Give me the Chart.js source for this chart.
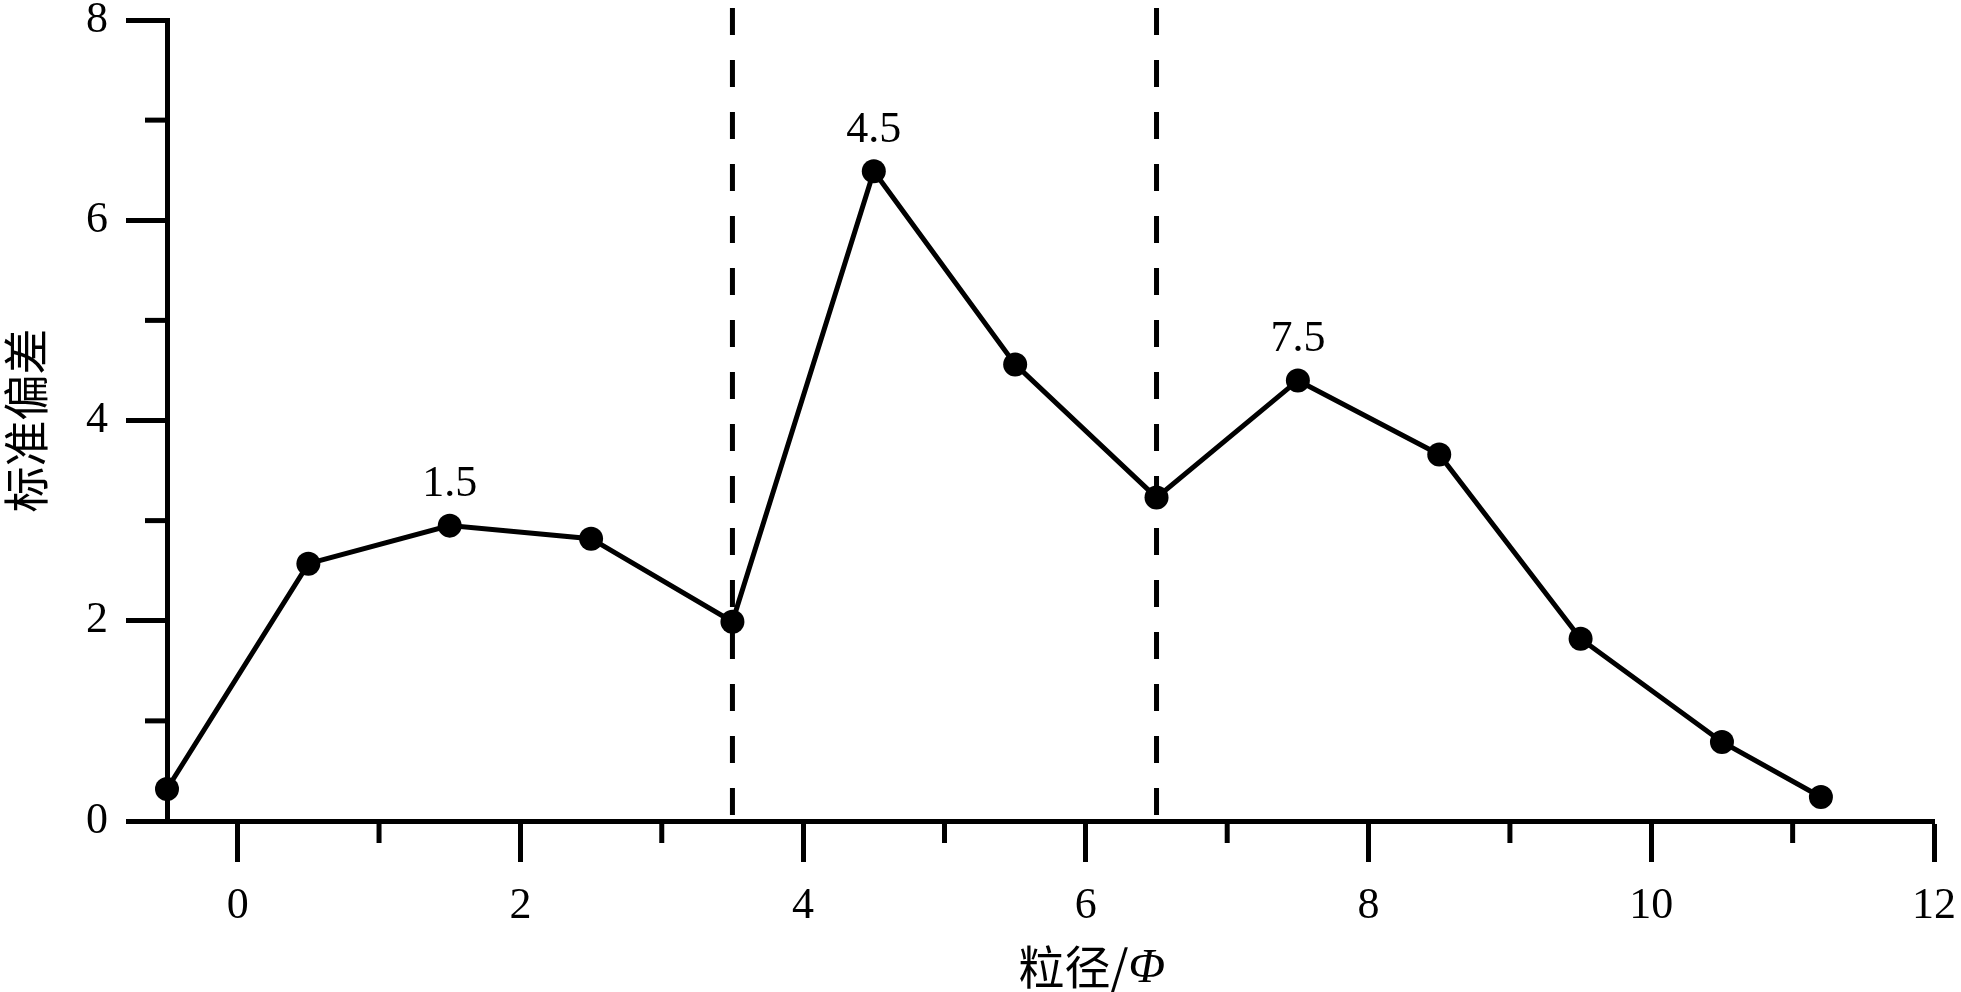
<!DOCTYPE html>
<html>
<head>
<meta charset="utf-8">
<script src="https://cdn.jsdelivr.net/npm/chart.js@4"></script>
<style>
  html, body { margin: 0; padding: 0; background: #fff; }
  #wrap { width: 1961px; height: 992px; }
</style>
</head>
<body>
<div id="wrap"><canvas id="sdChart" width="1961" height="992"></canvas></div>
<script>
// grain size (phi) and standard deviation
const grainSize = [-0.5, 0.5, 1.5, 2.5, 3.5, 4.5, 5.5, 6.5, 7.5, 8.5, 9.5, 10.5, 11.2];
const stdDev    = [0.32, 2.57, 2.95, 2.82, 1.99, 6.49, 4.56, 3.23, 4.40, 3.66, 1.82, 0.79, 0.24];

// dashed dividers and the labelled peaks
const dividers = [3.5, 6.5];
const dividerTop = 8.12;
const peakLabels = ["1.5", "4.5", "7.5"];
const peakIndex = [2, 5, 8];

const xMinor = [1, 3, 5, 7, 9, 11];
const yMinor = [1, 3, 5, 7];

const serif = "'Liberation Serif', 'Times New Roman', serif";
const cjk = "'Noto Sans CJK SC', sans-serif";

const pts = grainSize.map((x, i) => ({ x: x, y: stdDev[i] }));

const dividerSets = dividers.map(d => ({
    data: [{ x: d, y: dividerTop }, { x: d, y: 0 }],
    borderColor: "#000",
    borderWidth: 5,
    borderDash: [27, 25],
    pointRadius: 0,
    clip: false,
}));

// minor ticks, peak labels and the x title (with italic phi)
const extras = {
    id: "extras",
    afterDraw(chart) {
        const c = chart.ctx;
        const xs = chart.scales.x;
        const ys = chart.scales.y;
        const area = chart.chartArea;
        c.save();
        c.strokeStyle = "#000";
        c.lineWidth = 5;
        xMinor.forEach(v => {
            const px = xs.getPixelForValue(v);
            c.beginPath();
            c.moveTo(px, area.bottom);
            c.lineTo(px, area.bottom + 22);
            c.stroke();
        });
        yMinor.forEach(v => {
            const py = ys.getPixelForValue(v);
            c.beginPath();
            c.moveTo(area.left, py);
            c.lineTo(area.left - 22, py);
            c.stroke();
        });

        const meta = chart.getDatasetMeta(0);
        c.fillStyle = "#000";
        c.font = "44px " + serif;
        c.textAlign = "center";
        c.textBaseline = "middle";
        peakIndex.forEach((idx, k) => {
            const el = meta.data[idx];
            c.fillText(peakLabels[k], el.x, el.y - 41);
        });

        // x axis title
        const cx = xs.getPixelForValue(6) + 6;
        const ty = 967;
        c.textBaseline = "middle";
        c.textAlign = "left";
        c.font = "46px " + cjk;
        const p1 = "粒径/";
        const w1 = c.measureText(p1).width;
        c.font = "italic 48px " + serif;
        const p2 = "Φ";
        const w2 = c.measureText(p2).width;
        let sx = cx - (w1 + w2) / 2;
        c.font = "46px " + cjk;
        c.fillText(p1, sx, ty);
        c.font = "italic 48px " + serif;
        c.fillText(p2, sx + w1, ty + 2);
        c.restore();
    },
};

const ctx = document.getElementById("sdChart").getContext("2d");

const chart = new Chart(ctx, {
    type: "line",
    data: {
        datasets: [
            {
                data: pts,
                borderColor: "#000",
                backgroundColor: "#000",
                borderWidth: 5,
                pointRadius: 12,
                pointBackgroundColor: "#000",
                pointBorderWidth: 0,
                tension: 0,
                clip: false,
            },
            ...dividerSets,
        ],
    },
    options: {
        responsive: false,
        animation: false,
        events: [],
        layout: {
            padding: { top: 20, right: 27, left: 0, bottom: 0 },
        },
        plugins: {
            legend: { display: false },
            tooltip: { enabled: false },
        },
        scales: {
            x: {
                type: "linear",
                min: -0.5,
                max: 12,
                afterFit(scale) {
                    scale.height = 171;
                    scale.paddingRight = 0;
                    scale.paddingLeft = 0;
                },
                border: { color: "#000", width: 5 },
                grid: {
                    drawOnChartArea: false,
                    drawTicks: true,
                    tickLength: 41,
                    tickColor: "#000",
                    tickWidth: 5,
                },
                ticks: {
                    stepSize: 2,
                    includeBounds: false,
                    color: "#000",
                    padding: 18,
                    maxRotation: 0,
                    font: { family: serif, size: 44 },
                },
            },
            y: {
                min: 0,
                max: 8,
                afterFit(scale) {
                    scale.width = 167;
                    scale.paddingTop = 0;
                    scale.paddingBottom = 0;
                },
                border: { color: "#000", width: 5 },
                grid: {
                    drawOnChartArea: false,
                    drawTicks: true,
                    tickLength: 41,
                    tickColor: "#000",
                    tickWidth: 5,
                },
                ticks: {
                    stepSize: 2,
                    color: "#000",
                    padding: 18,
                    font: { family: serif, size: 44, lineHeight: 0.8 },
                },
                title: {
                    display: true,
                    text: "标准偏差",
                    color: "#000",
                    padding: 0,
                    font: { family: cjk, size: 46, lineHeight: 1.1 },
                },
            },
        },
    },
    plugins: [extras],
});
</script>
</body>
</html>
